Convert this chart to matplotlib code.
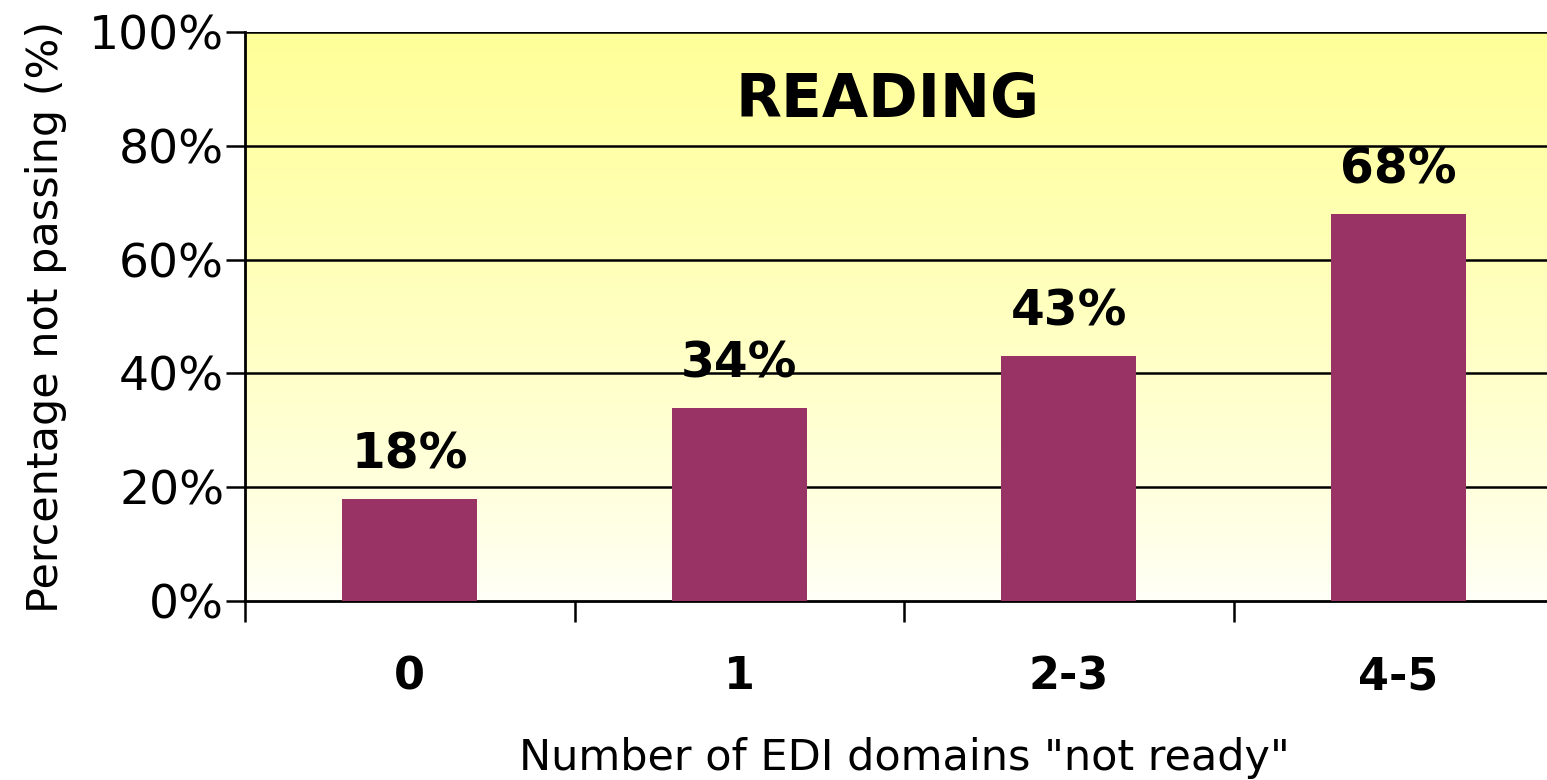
import numpy as np
import matplotlib
matplotlib.use("Agg")
import matplotlib.pyplot as plt
from matplotlib.colors import LinearSegmentedColormap

categories = ["0", "1", "2-3", "4-5"]
values = [18, 34, 43, 68]
yticks = [0, 20, 40, 60, 80, 100]
title = "READING"

plt.rcParams["font.family"] = ["DejaVu Sans"]

fig = plt.figure(figsize=(15.47, 7.8), dpi=100)
W, H = 1547, 780
left, right, top, bottom = 245, 1563, 32, 601
ax = fig.add_axes([left / W, 1 - bottom / H, (right - left) / W, (bottom - top) / H])

# yellow-to-white gradient background
cmap = LinearSegmentedColormap.from_list("bg", ["#fffff8", "#ffffc8", "#ffff99"])
grad = np.linspace(0, 1, 256).reshape(-1, 1) ** 0.8
ax.imshow(grad, aspect="auto", cmap=cmap, origin="lower",
          extent=[-0.5, 3.5, 0, 100], zorder=0)

x = np.arange(len(categories))
ax.bar(x, values, width=0.41, color="#993366", zorder=3)
for xi, v in zip(x, values):
    ax.text(xi, v + 3.6, f"{v}%", ha="center", va="bottom",
            fontsize=35, fontweight="bold", zorder=4)

for yv in yticks[1:]:
    ax.axhline(yv, color="black", lw=1.8, zorder=2)

ax.set_xlim(-0.5, 3.5)
ax.set_ylim(0, 100)
ax.set_yticks(yticks)
ax.set_yticklabels([f"{t}%" for t in yticks], fontsize=34)
ax.set_xticks(x)
ax.set_xticklabels(categories, fontsize=32, fontweight="bold")
ax.set_xticks(np.arange(-0.5, 4, 1), minor=True)
ax.tick_params(axis="x", which="major", length=0, pad=39)
ax.tick_params(axis="x", which="minor", length=15, width=1.8, direction="out")
ax.tick_params(axis="y", length=14, width=1.8, pad=1)

for s in ["top", "right"]:
    ax.spines[s].set_visible(False)
for s in ["left", "bottom"]:
    ax.spines[s].set_linewidth(2)

ax.set_ylabel("Percentage not passing (%)", fontsize=31, labelpad=16)
ax.set_xlabel('Number of EDI domains "not ready"', fontsize=31, labelpad=28)
ax.text(1.45, 88, title, ha="center", va="center", fontsize=43,
        fontweight="bold", zorder=4)

fig.savefig("out.png", dpi=100)
